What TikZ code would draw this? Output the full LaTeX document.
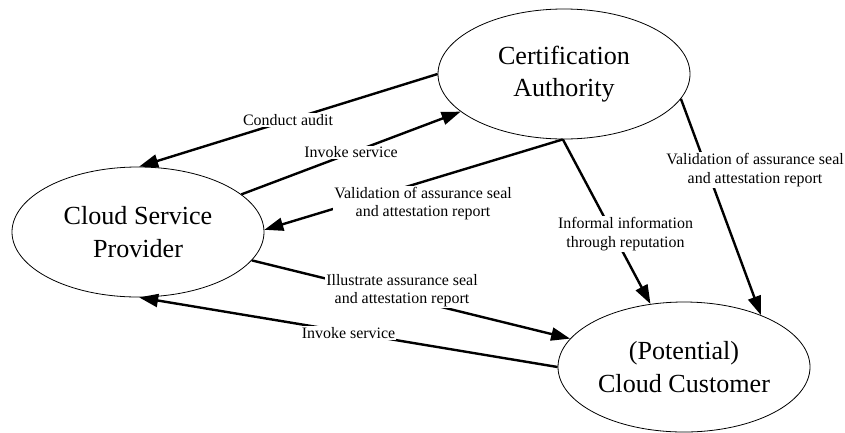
\documentclass[tikz,border=0pt]{standalone}
\usepackage{fontspec}
\setmainfont{Liberation Serif}
\usetikzlibrary{arrows.meta,shapes.geometric}
\begin{document}
\begin{tikzpicture}[x=1bp,y=-1bp,
  ent/.style={ellipse,draw,line width=0.8bp,minimum width=252bp,minimum height=130bp,inner sep=0pt,align=center,font=\fontsize{26.2}{32.5}\selectfont},
  conn/.style={line width=2.4bp,-{Triangle[length=19bp,width=13bp]}},
  lbl/.style={fill=white,inner sep=1bp,align=center,font=\fontsize{16}{18.5}\selectfont}]
\useasboundingbox (0,0) rectangle (845,432);
\node[ent] (ca) at (564,74) {Certification\\Authority};
\node[ent] (csp) at (138,232) {Cloud Service\\Provider};
\node[ent] (cc) at (684,367) {(Potential)\\Cloud Customer};

\draw[conn] (ca.180) -- (csp.89);
\draw[conn] (csp.20.6) -- (ca.200.4);
\draw[conn] (ca.269) -- (csp.1);
\draw[conn] (ca.269) -- (cc.118.7);
\draw[conn] (ca.348.4) -- (cc.34.4);
\draw[conn] (csp.346) -- (cc.166.7);
\draw[conn] (cc.180.5) -- (csp.271.8);

\node[lbl] (l1) at (288,120) {Conduct audit};
\node[lbl] (l2) at (351,152.5) {Invoke service};
\node[lbl] (l3) at (423,203.5) {Validation of assurance seal\\and attestation report};
\node[lbl] (l4) at (625.5,234) {Informal information\\through reputation};
\node[lbl] (l5) at (755,170) {Validation of assurance seal\\and attestation report};
\node[lbl] (l6) at (402,290.5) {Illustrate assurance seal\\and attestation report};
\node[lbl] (l7) at (348.5,333) {Invoke service};
\end{tikzpicture}
\end{document}
